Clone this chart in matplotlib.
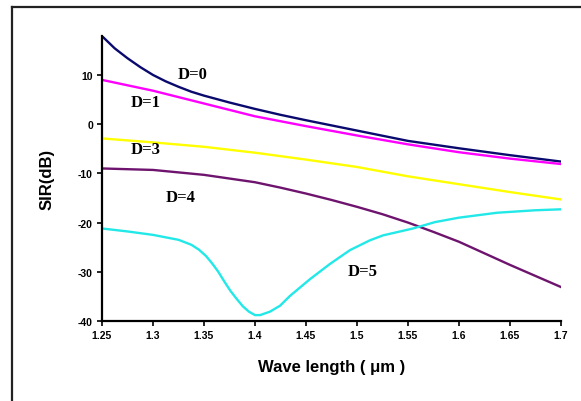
import matplotlib
matplotlib.use("Agg")
import matplotlib.pyplot as plt
from matplotlib.lines import Line2D

# ---- data ----
wl_a = [1.25, 1.2625, 1.275, 1.2875, 1.30, 1.3125, 1.325, 1.3375, 1.35, 1.375,
        1.40, 1.425, 1.45, 1.50, 1.55, 1.60, 1.65, 1.70]
d0 = [17.9, 15.4, 13.4, 11.6, 10.0, 8.7, 7.6, 6.6, 5.8, 4.4,
      3.1, 1.9, 0.8, -1.3, -3.4, -4.9, -6.3, -7.6]

wl_b = [1.25, 1.30, 1.35, 1.40, 1.45, 1.50, 1.55, 1.60, 1.65, 1.70]
d1 = [9.0, 6.8, 4.2, 1.6, -0.4, -2.3, -4.1, -5.7, -7.0, -8.1]
d3 = [-2.9, -3.7, -4.6, -5.8, -7.2, -8.7, -10.6, -12.2, -13.8, -15.3]

wl_d = [1.25, 1.30, 1.35, 1.40, 1.425, 1.45, 1.475, 1.50, 1.525, 1.55, 1.575,
        1.60, 1.65, 1.70]
d4 = [-9.0, -9.3, -10.3, -11.8, -12.9, -14.1, -15.4, -16.8, -18.3, -20.0, -21.9,
      -23.9, -28.6, -33.1]

wl_c = [1.25, 1.275, 1.30, 1.325, 1.3375, 1.345, 1.352, 1.358, 1.364, 1.370,
        1.376, 1.382, 1.388, 1.394, 1.40, 1.405, 1.4147, 1.4245, 1.4343,
        1.4539, 1.4735, 1.4931, 1.5127, 1.5255, 1.5549, 1.5765, 1.60, 1.6373,
        1.6745, 1.70]
d5 = [-21.2, -21.8, -22.5, -23.5, -24.5, -25.5, -26.8, -28.3, -30.0, -32.0,
      -33.9, -35.5, -37.0, -38.1, -38.8, -38.8, -38.1, -36.9, -34.9,
      -31.5, -28.4, -25.6, -23.6, -22.6, -21.2, -19.9, -19.0, -18.0,
      -17.5, -17.3]

labels = ["D=0", "D=1", "D=3", "D=4", "D=5"]
label_x = [1.3392, 1.2931, 1.2931, 1.3275, 1.5059]
label_y = [10.2, 4.5, -5.0, -14.8, -29.8]

xticks = [1.25, 1.3, 1.35, 1.4, 1.45, 1.5, 1.55, 1.6, 1.65, 1.7]
xtick_labels = ["1.25", "1.3", "1.35", "1.4", "1.45", "1.5", "1.55", "1.6", "1.65", "1.7"]
yticks = [-40, -30, -20, -10, 0, 10]

# ---- figure ----
W, H = 581, 402
fig = plt.figure(figsize=(W / 100, H / 100), dpi=100)
fig.patch.set_facecolor("white")

# outer frame (left and top edges visible)
fig.add_artist(Line2D([12 / W, 12 / W], [0, 1 - 8 / H], color="#222222", lw=1.6))
fig.add_artist(Line2D([12 / W, 1], [1 - 8 / H, 1 - 8 / H], color="#222222", lw=1.6))

ax = fig.add_axes([102 / W, 1 - 322 / H, (561 - 102) / W, (322 - 36.6) / H])

ax.plot(wl_a, d0, color="#0a0a6e", lw=1.7)
ax.plot(wl_b, d1, color="#ff00ff", lw=1.7)
ax.plot(wl_b, d3, color="#ffff00", lw=1.7)
ax.plot(wl_d, d4, color="#6e146e", lw=1.7)
ax.plot(wl_c, d5, color="#22e8e8", lw=1.7)

ax.set_xlim(1.25, 1.70)
ax.set_ylim(-40, 18)

for s in ["top", "right"]:
    ax.spines[s].set_visible(False)
for s in ["left", "bottom"]:
    ax.spines[s].set_linewidth(1.6)
    ax.spines[s].set_color("black")

tick_font = dict(family=["Liberation Sans Narrow", "Liberation Sans", "DejaVu Sans"],
                 weight="bold", size=7.5)
ax.set_xticks(xticks)
ax.set_xticklabels(xtick_labels, **tick_font)
ax.set_yticks(yticks)
ax.set_yticklabels([str(v) for v in yticks], **tick_font)
ax.tick_params(axis="both", direction="out", length=3.5, width=1.2, color="black", pad=3)

ax.set_xlabel("Wave length ( μm )", family=["Liberation Sans", "DejaVu Sans"],
              weight="bold", size=12, labelpad=14)
ax.set_ylabel("SIR(dB)", family=["Liberation Sans", "DejaVu Sans"],
              weight="bold", size=12, labelpad=17)

for t, x, y in zip(labels, label_x, label_y):
    ax.text(x, y, t, family=["Liberation Serif", "DejaVu Serif"], weight="bold",
            size=12, ha="center", va="center", color="black")

fig.savefig("out.png", dpi=100, facecolor="white")
